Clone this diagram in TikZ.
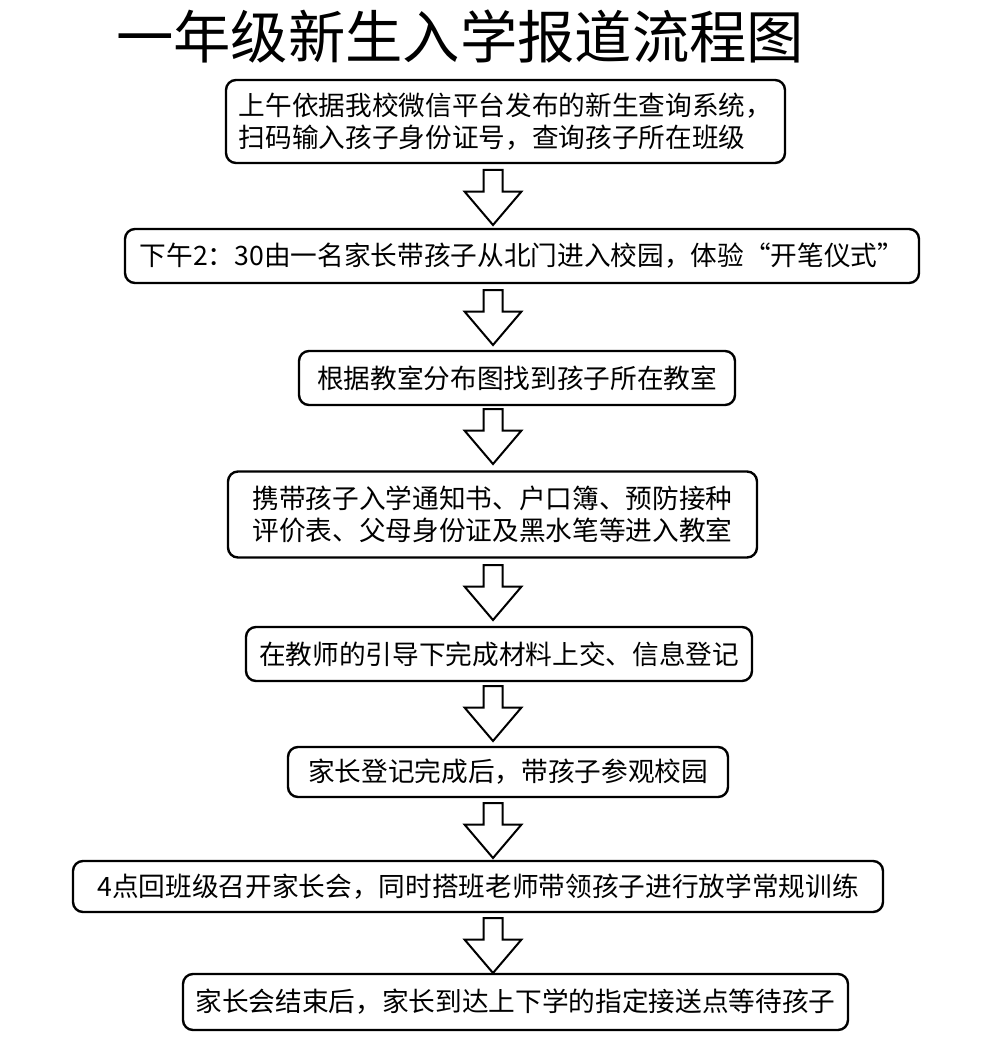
\documentclass[tikz,border=0pt]{standalone}
\usepackage{fontspec}
\setmainfont{Noto Sans CJK SC}
\usepackage{tikz}

\begin{document}
\begin{tikzpicture}[x=0.75pt,y=-0.75pt]
\tikzstyle{stepbox}=[draw, line width=1.8pt, rounded corners=7.5pt, align=left, inner sep=0pt, font=\fontsize{20}{24}\selectfont]
\tikzstyle{blockarrow}=[draw, line width=1.5pt, fill=white, line join=miter]
\useasboundingbox (0,0) rectangle (995,1038);
\node (title) at (460,37) {\fontsize{43}{50}\selectfont 一年级新生入学报道流程图};
\node [stepbox, minimum width=419.25pt, minimum height=62.25pt] (b1) at (505.5,121.5) {上午依据我校微信平台发布的新生查询系统，\\扫码输入孩子身份证号，查询孩子所在班级};
\node [stepbox, minimum width=595.5pt, minimum height=40.5pt] (b2) at (522,256) {下午2：30由一名家长带孩子从北门进入校园，体验“开笔仪式”};
\node [stepbox, minimum width=327pt, minimum height=40.5pt] (b3) at (517,378) {根据教室分布图找到孩子所在教室};
\node [stepbox, minimum width=396.75pt, minimum height=64.5pt] (b4) at (492.5,514.5) {携带孩子入学通知书、户口簿、预防接种\\评价表、父母身份证及黑水笔等进入教室};
\node [stepbox, minimum width=379.5pt, minimum height=40.5pt] (b5) at (499,654) {在教师的引导下完成材料上交、信息登记};
\node [stepbox, minimum width=330pt, minimum height=37.5pt] (b6) at (508,772) {家长登记完成后，带孩子参观校园};
\node [stepbox, minimum width=607.5pt, minimum height=38.25pt] (b7) at (478,886.5) {4点回班级召开家长会，同时搭班老师带领孩子进行放学常规训练};
\node [stepbox, minimum width=498.75pt, minimum height=42pt] (b8) at (515.5,1002) {家长会结束后，家长到达上下学的指定接送点等待孩子};
% block arrows between the steps
\coordinate (a1) at (493,170);
\coordinate (a2) at (493,290);
\coordinate (a3) at (493,409);
\coordinate (a4) at (493,565);
\coordinate (a5) at (493,686);
\coordinate (a6) at (493,803);
\coordinate (a7) at (493,918);
\draw [blockarrow] (a1) ++(-9.5,0) -- ++(0,21.5) -- ++(-19,0) -- ++(28.5,33.5) -- ++(28.5,-33.5) -- ++(-19,0) -- ++(0,-21.5) -- cycle;
\draw [blockarrow] (a2) ++(-9.5,0) -- ++(0,21.5) -- ++(-19,0) -- ++(28.5,33.5) -- ++(28.5,-33.5) -- ++(-19,0) -- ++(0,-21.5) -- cycle;
\draw [blockarrow] (a3) ++(-9.5,0) -- ++(0,21.5) -- ++(-19,0) -- ++(28.5,33.5) -- ++(28.5,-33.5) -- ++(-19,0) -- ++(0,-21.5) -- cycle;
\draw [blockarrow] (a4) ++(-9.5,0) -- ++(0,21.5) -- ++(-19,0) -- ++(28.5,33.5) -- ++(28.5,-33.5) -- ++(-19,0) -- ++(0,-21.5) -- cycle;
\draw [blockarrow] (a5) ++(-9.5,0) -- ++(0,21.5) -- ++(-19,0) -- ++(28.5,33.5) -- ++(28.5,-33.5) -- ++(-19,0) -- ++(0,-21.5) -- cycle;
\draw [blockarrow] (a6) ++(-9.5,0) -- ++(0,21.5) -- ++(-19,0) -- ++(28.5,33.5) -- ++(28.5,-33.5) -- ++(-19,0) -- ++(0,-21.5) -- cycle;
\draw [blockarrow] (a7) ++(-9.5,0) -- ++(0,21.5) -- ++(-19,0) -- ++(28.5,33.5) -- ++(28.5,-33.5) -- ++(-19,0) -- ++(0,-21.5) -- cycle;
\end{tikzpicture}
\end{document}
